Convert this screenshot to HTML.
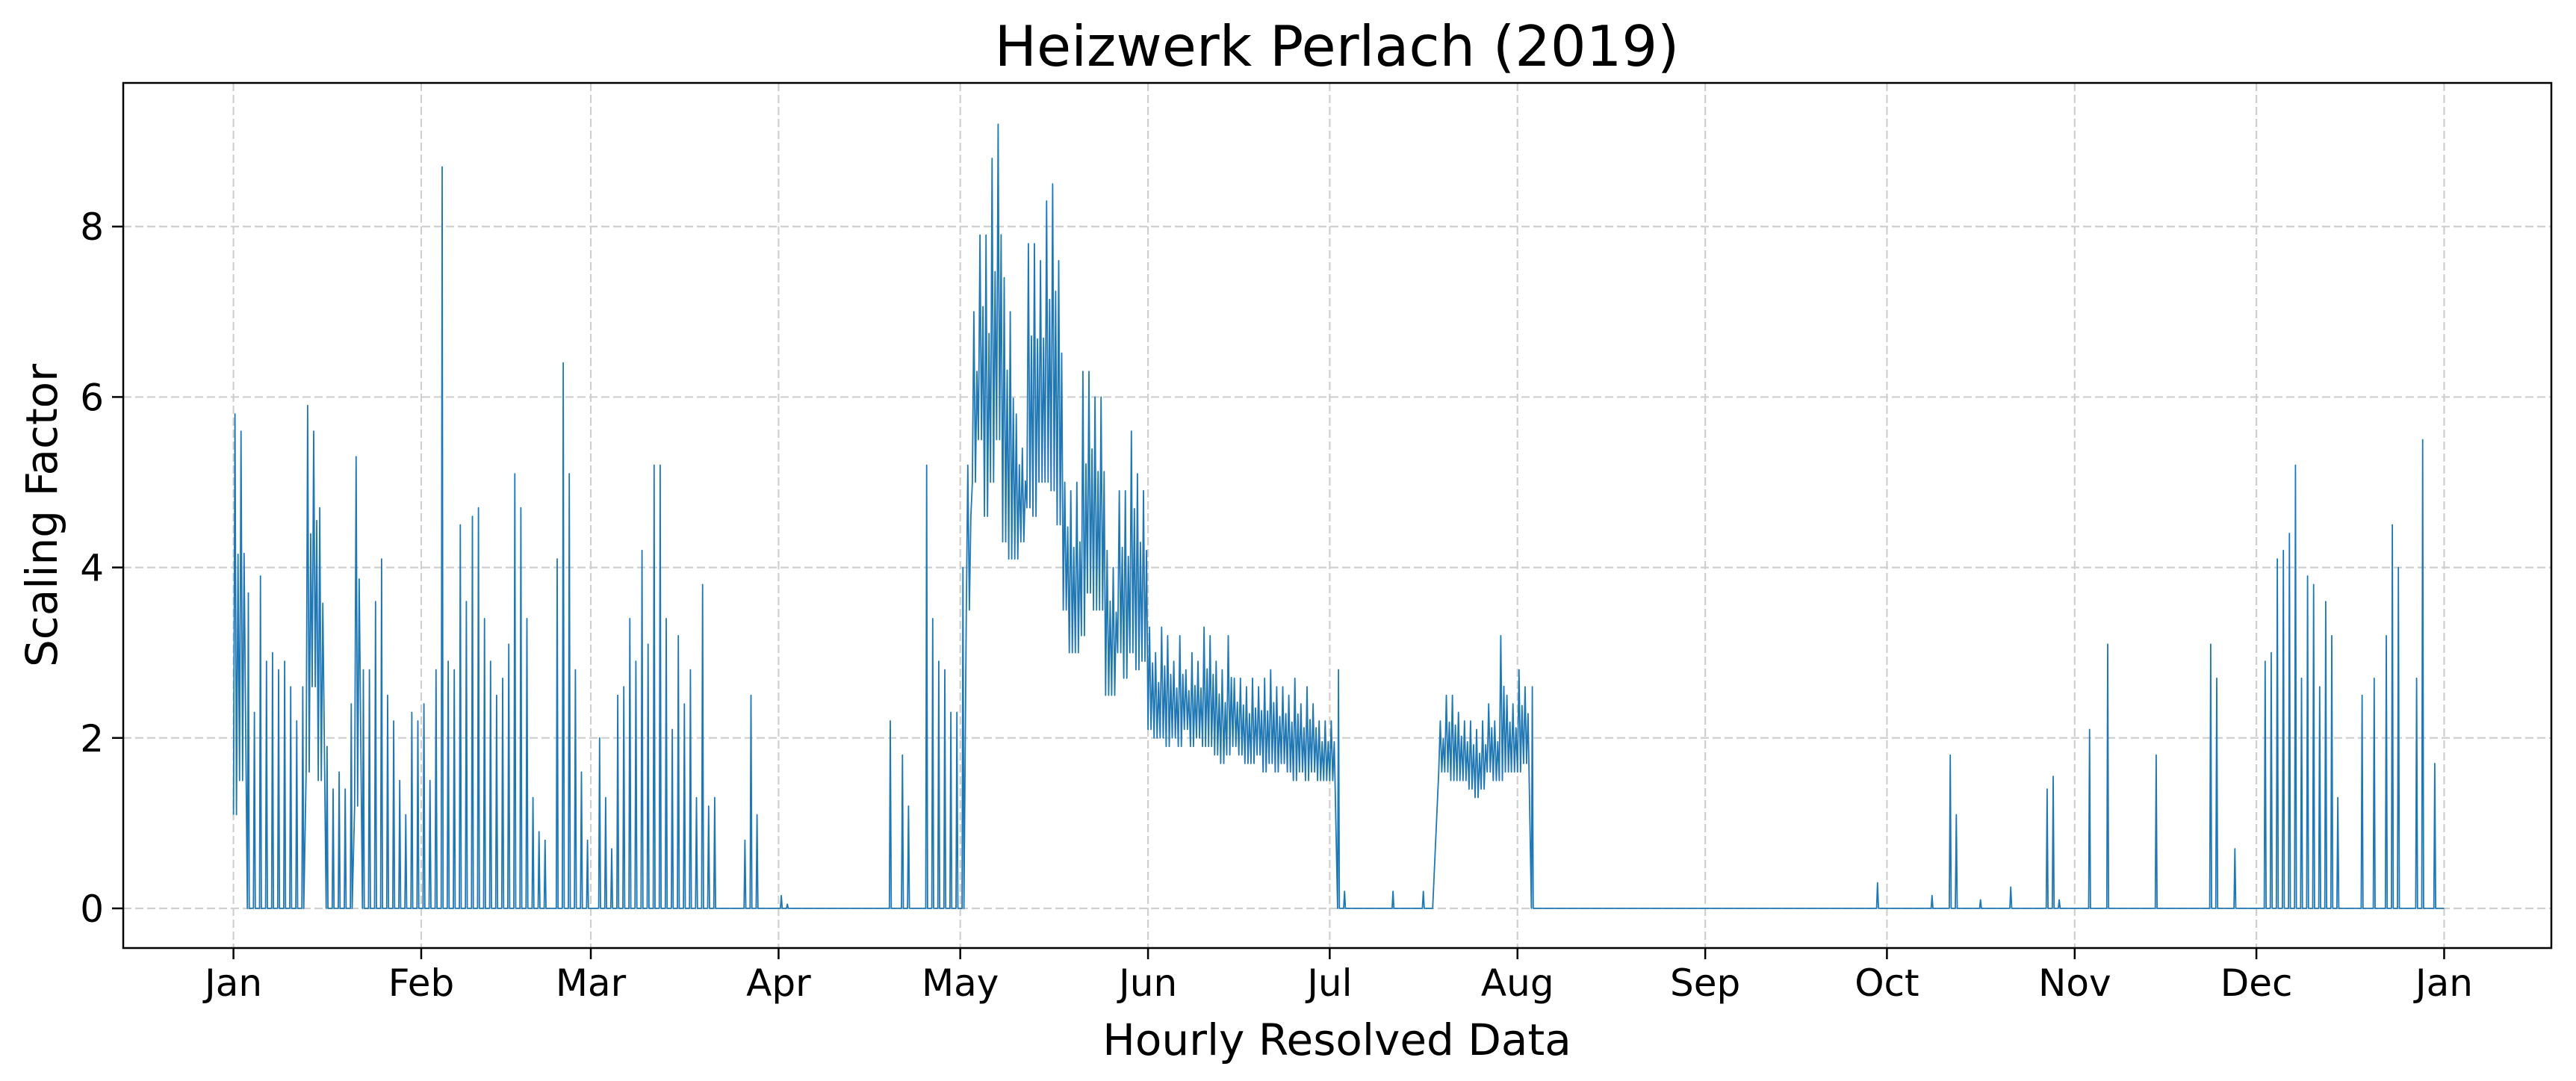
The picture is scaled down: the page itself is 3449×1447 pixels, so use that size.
<!DOCTYPE html>
<html><head><meta charset="utf-8"><style>
html,body{margin:0;padding:0;background:#fff;}
svg{display:block;font-family:"DejaVu Sans","Liberation Sans",sans-serif;}
</style></head><body>
<svg id="chart" width="3449" height="1447" viewBox="0 0 3449 1447" xmlns="http://www.w3.org/2000/svg">
<rect width="3449" height="1447" fill="#fff"/>
<g id="grid"></g>
<g id="series"></g>
<rect x="165" y="111" width="3251" height="1158" fill="none" stroke="#000" stroke-width="2.5"/>
<g id="axes"></g>
<text x="1790" y="88" font-size="75" text-anchor="middle">Heizwerk Perlach (2019)</text>
<text x="1790" y="1412" font-size="58" text-anchor="middle">Hourly Resolved Data</text>
<text x="0" y="0" font-size="58" text-anchor="middle" transform="translate(76,690) rotate(-90)">Scaling Factor</text>
</svg>
<script>
const monthLabels=["Jan","Feb","Mar","Apr","May","Jun","Jul","Aug","Sep","Oct","Nov","Dec","Jan"];
const monthDays=[0,31,59,90,120,151,181,212,243,273,304,334,365];
const yTicks=[0,2,4,6,8];
const hiJan=[5.8,5.6,3.7,2.3,3.9,2.9,3.0,2.8,2.9,2.6,2.2,2.6,5.9,5.6,4.7,1.9,1.4,1.6,1.4,2.4,5.3,2.8,2.8,3.6,4.1,2.5,2.2,1.5,1.1,2.3,2.2];
const hiFeb=[2.4,1.5,2.8,8.7,2.9,2.8,4.5,3.6,4.6,4.7,3.4,2.9,2.5,2.7,3.1,5.1,4.7,3.4,1.3,0.9,0.8,0,4.1,6.4,5.1,2.8,1.6,0.8];
const hiMar=[0,2.0,1.3,0.7,2.5,2.6,3.4,2.9,4.2,3.1,5.2,5.2,3.4,2.1,3.2,2.4,2.8,1.3,3.8,1.2,1.3,0,0,0,0,0.8,2.5,1.1,0,0,0];
const hiApr=[0.15,0.05,0,0,0,0,0,0,0,0,0,0,0,0,0,0,0,0,2.2,0,1.8,1.2,0,0,5.2,3.4,2.9,2.8,2.3,2.3];
const hiMay=[4.0,5.2,7.0,7.9,7.9,8.8,9.2,7.4,7.0,5.8,5.4,7.8,7.8,7.6,8.3,8.5,7.6,5.0,4.9,5.0,6.3,6.3,6.0,6.0,4.2,4.0,4.9,4.9,5.6,5.1,4.9];
const hiJun=[3.3,3.0,3.3,3.2,2.9,3.2,2.8,3.0,2.9,3.3,3.2,2.9,2.8,3.2,2.7,2.7,2.6,2.7,2.6,2.7,2.8,2.6,2.6,2.5,2.7,2.4,2.6,2.4,2.2,2.2];
const hiJul=[2.2,2.8,0.2,0,0,0,0,0,0,0,0.2,0,0,0,0,0.2,0,0,2.2,2.5,2.5,2.3,2.2,2.2,2.1,2.2,2.4,2.2,3.2,2.5,2.4];
const hiAug=[2.8,2.6,2.6,0,0,0,0,0,0,0,0,0,0,0,0,0,0,0,0,0,0,0,0,0,0,0,0,0,0,0,0];
const hiSep=[0,0,0,0,0,0,0,0,0,0,0,0,0,0,0,0,0,0,0,0,0,0,0,0,0,0,0,0,0.3,0];
const hiOct=[0,0,0,0,0,0,0,0.15,0,0,1.8,1.1,0,0,0,0.1,0,0,0,0,0.25,0,0,0,0,0,1.4,1.55,0.1,0,0];
const hiNov=[0,0,2.1,0,0,3.1,0,0,0,0,0,0,0,1.8,0,0,0,0,0,0,0,0,3.1,2.7,0,0,0.7,0,0,0];
const hiDec=[0,2.9,3.0,4.1,4.2,4.4,5.2,2.7,3.9,3.8,2.6,3.6,3.2,1.3,0,0,0,2.5,0,2.7,0,3.2,4.5,4.0,0,0,2.7,5.5,0,1.7,0];
const loJan=[1.1,1.5,0,0,0,0,0,0,0,0,0,0,1.6,2.6,1.5,0,0,0,0,0,1.2,0,0,0,0,0,0,0,0,0,0];
const loMay=[0,3.5,5.0,5.5,4.6,5.0,5.5,4.3,4.1,4.1,4.3,4.7,4.6,5.0,5.0,4.9,4.5,3.5,3.0,3.0,3.2,3.7,3.5,3.5,2.5,2.5,3.0,2.7,3.0,2.8,2.9];
const loJun=[2.1,2.0,2.0,1.9,2.0,1.9,2.1,1.9,2.0,1.9,1.9,1.8,1.7,1.8,1.9,1.8,1.7,1.7,1.8,1.6,1.7,1.6,1.7,1.6,1.5,1.6,1.5,1.6,1.5,1.5];
const loJul=[1.5,0,0,0,0,0,0,0,0,0,0,0,0,0,0,0,0,0,1.6,1.6,1.5,1.5,1.5,1.4,1.3,1.4,1.6,1.5,1.5,1.6,1.6];
const loAug=[1.6,1.7,0,0,0,0,0,0,0,0,0,0,0,0,0,0,0,0,0,0,0,0,0,0,0,0,0,0,0,0,0];

const NS="http://www.w3.org/2000/svg";
const hi=[].concat(hiJan,hiFeb,hiMar,hiApr,hiMay,hiJun,hiJul,hiAug,hiSep,hiOct,hiNov,hiDec);
const zeros=n=>new Array(n).fill(0);
const lo=[].concat(loJan,zeros(28),zeros(31),zeros(30),loMay,loJun,loJul,loAug,zeros(30),zeros(31),zeros(30),zeros(31));
const X0=165,X1=3416,Y0=111,Y1=1269;
const dMin=-18.2,dMax=382.7,vMin=-0.465,vMax=9.685;
const xs=d=>X0+(d-dMin)/(dMax-dMin)*(X1-X0);
const ys=v=>Y1-(v-vMin)/(vMax-vMin)*(Y1-Y0);

const grid=document.getElementById('grid');
const axes=document.getElementById('axes');
monthDays.forEach((d,i)=>{
  const x=xs(d);
  const g=document.createElementNS(NS,'line');
  g.setAttribute('x1',x);g.setAttribute('x2',x);g.setAttribute('y1',Y0);g.setAttribute('y2',Y1);
  g.setAttribute('stroke','#cfcfcf');g.setAttribute('stroke-width','2.2');g.setAttribute('stroke-dasharray','11,5');
  
  
  grid.appendChild(g);
  const t=document.createElementNS(NS,'line');
  t.setAttribute('x1',x);t.setAttribute('x2',x);t.setAttribute('y1',Y1);t.setAttribute('y2',Y1+15);
  t.setAttribute('stroke','#000');t.setAttribute('stroke-width','2.5');
  
  
  axes.appendChild(t);
  const l=document.createElementNS(NS,'text');
  l.setAttribute('x',x);l.setAttribute('y',1333);l.setAttribute('font-size','50');l.setAttribute('text-anchor','middle');
  l.textContent=monthLabels[i];
  
  
  axes.appendChild(l);
});
yTicks.forEach(v=>{
  const y=ys(v);
  const g=document.createElementNS(NS,'line');
  g.setAttribute('x1',X0);g.setAttribute('x2',X1);g.setAttribute('y1',y);g.setAttribute('y2',y);
  g.setAttribute('stroke','#cfcfcf');g.setAttribute('stroke-width','2.2');g.setAttribute('stroke-dasharray','11,5');
  
  
  grid.appendChild(g);
  const t=document.createElementNS(NS,'line');
  t.setAttribute('x1',X0-15);t.setAttribute('x2',X0);t.setAttribute('y1',y);t.setAttribute('y2',y);
  t.setAttribute('stroke','#000');t.setAttribute('stroke-width','2.5');
  
  
  axes.appendChild(t);
  const l=document.createElementNS(NS,'text');
  l.setAttribute('x',X0-26);l.setAttribute('y',y+18);l.setAttribute('font-size','50');l.setAttribute('text-anchor','end');
  l.textContent=v;
  
  
  axes.appendChild(l);
});
let pts=[];
for(let d=0;d<hi.length;d++){
  const h=hi[d],l=lo[d];
  if(h===0){pts.push([d,0]);}
  else if(l===0){pts.push([d+0.3,0],[d+0.45,h],[d+0.6,0]);}
  else{pts.push([d,l],[d+0.25,h],[d+0.5,l],[d+0.75,l+(h-l)*0.65]);}
}
pts.push([365,0]);
const path=document.createElementNS(NS,'path');
path.setAttribute('d',pts.map((p,i)=>(i?'L':'M')+xs(p[0]).toFixed(1)+','+ys(p[1]).toFixed(1)).join(''));
path.setAttribute('fill','none');path.setAttribute('stroke','#1f77b4');path.setAttribute('stroke-width','1.8');path.setAttribute('stroke-linejoin','round');


document.getElementById('series').appendChild(path);
</script>
</body></html>
